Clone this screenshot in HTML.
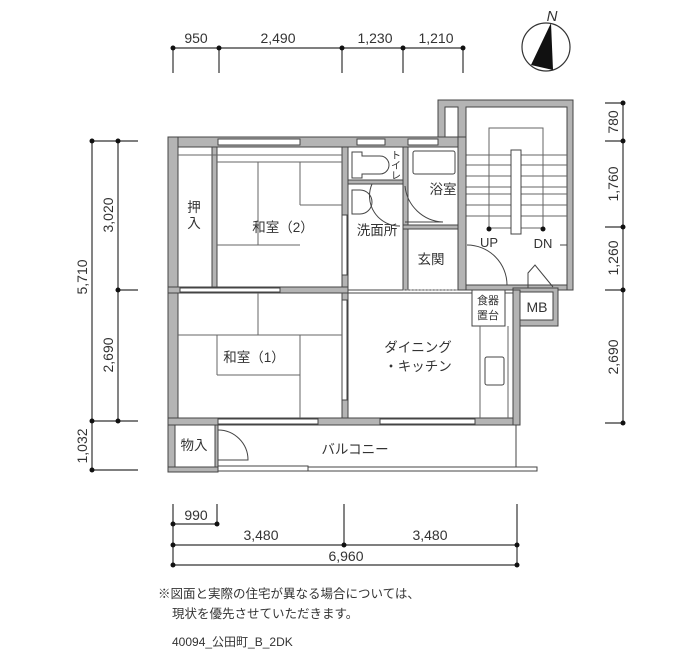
<!DOCTYPE html>
<html><head><meta charset="utf-8"><style>
body{margin:0;background:#fff}
svg{display:block}
text{font-family:"Liberation Sans","Noto Sans CJK JP",sans-serif;fill:#333}
.w{fill:#b4b4b4;stroke:#444;stroke-width:1}
.l{stroke:#444;stroke-width:1;fill:none}
.t{stroke:#666;stroke-width:1;fill:none}
.d{stroke:#333;stroke-width:1.2;fill:none}
</style></head><body>
<svg width="700" height="650" viewBox="0 0 700 650">
<!-- top dims -->
<g class="d"><line x1="173" y1="48" x2="463" y2="48"/>
<line x1="173" y1="48" x2="173" y2="73"/><line x1="219" y1="48" x2="219" y2="73"/><line x1="342" y1="48" x2="342" y2="73"/><line x1="403" y1="48" x2="403" y2="73"/><line x1="463" y1="48" x2="463" y2="73"/></g>
<g fill="#111"><circle cx="173" cy="48" r="2.5"/><circle cx="219" cy="48" r="2.5"/><circle cx="342" cy="48" r="2.5"/><circle cx="403" cy="48" r="2.5"/><circle cx="463" cy="48" r="2.5"/></g>
<g font-size="14" text-anchor="middle"><text x="196" y="43">950</text><text x="278" y="43">2,490</text><text x="375" y="43">1,230</text><text x="436" y="43">1,210</text></g>
<!-- compass -->
<circle cx="546" cy="47" r="24" fill="none" stroke="#333" stroke-width="1.2"/>
<polygon points="551,23 531,65 553,70" fill="#111"/>
<text x="552" y="21" font-size="15" text-anchor="middle" font-style="italic">N</text>
<!-- left dims -->
<g class="d"><line x1="92" y1="141" x2="92" y2="470"/><line x1="118" y1="141" x2="118" y2="421"/>
<line x1="92" y1="141" x2="138" y2="141"/><line x1="118" y1="290" x2="138" y2="290"/><line x1="92" y1="421" x2="138" y2="421"/><line x1="92" y1="470" x2="138" y2="470"/></g>
<g fill="#111"><circle cx="92" cy="141" r="2.5"/><circle cx="118" cy="141" r="2.5"/><circle cx="118" cy="290" r="2.5"/><circle cx="92" cy="421" r="2.5"/><circle cx="118" cy="421" r="2.5"/><circle cx="92" cy="470" r="2.5"/></g>
<g font-size="14" text-anchor="middle">
<text transform="translate(87,277) rotate(-90)">5,710</text>
<text transform="translate(113,215) rotate(-90)">3,020</text>
<text transform="translate(113,355) rotate(-90)">2,690</text>
<text transform="translate(87,446) rotate(-90)">1,032</text>
</g>
<!-- right dims -->
<g class="d"><line x1="623" y1="103" x2="623" y2="423"/>
<line x1="605" y1="103" x2="623" y2="103"/><line x1="605" y1="141" x2="623" y2="141"/><line x1="605" y1="227" x2="623" y2="227"/><line x1="605" y1="290" x2="623" y2="290"/><line x1="605" y1="423" x2="623" y2="423"/></g>
<g fill="#111"><circle cx="623" cy="103" r="2.5"/><circle cx="623" cy="141" r="2.5"/><circle cx="623" cy="227" r="2.5"/><circle cx="623" cy="290" r="2.5"/><circle cx="623" cy="423" r="2.5"/></g>
<g font-size="14" text-anchor="middle">
<text transform="translate(618,122) rotate(-90)">780</text>
<text transform="translate(618,184) rotate(-90)">1,760</text>
<text transform="translate(618,258) rotate(-90)">1,260</text>
<text transform="translate(618,357) rotate(-90)">2,690</text>
</g>
<!-- bottom dims -->
<g class="d"><line x1="173" y1="504" x2="173" y2="565"/><line x1="217" y1="504" x2="217" y2="524"/><line x1="173" y1="524" x2="217" y2="524"/>
<line x1="173" y1="545" x2="517" y2="545"/><line x1="344" y1="504" x2="344" y2="545"/><line x1="517" y1="504" x2="517" y2="565"/><line x1="173" y1="565" x2="517" y2="565"/></g>
<g fill="#111"><circle cx="173" cy="524" r="2.5"/><circle cx="217" cy="524" r="2.5"/><circle cx="173" cy="545" r="2.5"/><circle cx="344" cy="545" r="2.5"/><circle cx="517" cy="545" r="2.5"/><circle cx="173" cy="565" r="2.5"/><circle cx="517" cy="565" r="2.5"/></g>
<g font-size="14" text-anchor="middle"><text x="196" y="520">990</text><text x="261" y="540">3,480</text><text x="430" y="540">3,480</text><text x="346" y="561">6,960</text></g>
<g font-size="12.5"><text x="158" y="598">※図面と実際の住宅が異なる場合については、</text><text x="172" y="618">現状を優先させていただきます。</text><text x="172" y="646" font-size="12">40094_公田町_B_2DK</text></g>

<!-- floor plan -->
<rect class="w" x="438" y="100" width="135" height="190"/>
<rect x="445" y="107" width="13" height="30" fill="#fff" stroke="#444"/>
<rect x="466" y="107" width="101" height="178" fill="#fff" stroke="#444"/>
<rect x="466" y="285" width="101" height="5" class="w"/>
<g class="t"><rect x="489" y="128" width="54" height="100"/>
<line x1="466" y1="155" x2="567" y2="155"/><line x1="466" y1="165" x2="567" y2="165"/><line x1="466" y1="176" x2="567" y2="176"/><line x1="466" y1="187" x2="567" y2="187"/><line x1="466" y1="194" x2="567" y2="194"/><line x1="466" y1="205" x2="567" y2="205"/><line x1="466" y1="216" x2="567" y2="216"/></g>
<rect x="511" y="150" width="10" height="84" fill="#fff" stroke="#444"/>
<circle cx="489" cy="229" r="2.5" fill="#111"/><circle cx="543" cy="229" r="2.5" fill="#111"/>
<text x="489" y="247" font-size="13" text-anchor="middle">UP</text><text x="543" y="248" font-size="13" text-anchor="middle">DN</text>
<path class="l" d="M467,245 A40,40 0 0 1 507,285 L467,285"/>
<line x1="560" y1="245" x2="567" y2="245" class="l"/>
<path class="l" d="M528,288 L528,273 L535,265 L553,287"/>
<rect class="w" x="513" y="288" width="45" height="38"/>
<rect x="519" y="292" width="34" height="28" fill="#fff" stroke="#444"/>
<text x="537" y="312" font-size="14" text-anchor="middle">MB</text>
<rect class="w" x="168" y="137" width="290" height="10"/>
<rect class="w" x="168" y="137" width="10" height="335"/>
<rect class="w" x="168" y="418" width="352" height="7"/>
<rect class="w" x="513" y="290" width="7" height="135"/>
<rect class="w" x="458" y="137" width="8" height="153"/>
<rect class="w" x="342" y="147" width="6" height="271"/>
<rect class="w" x="168" y="287" width="180" height="6"/>
<rect class="w" x="403" y="147" width="5" height="143"/>
<rect class="w" x="348" y="180" width="55" height="4"/>
<rect class="w" x="403" y="225" width="55" height="4"/>
<g fill="#fff" stroke="#444"><rect x="218" y="139" width="82" height="6"/><rect x="357" y="139" width="28" height="6"/><rect x="408" y="139" width="30" height="6"/>
<rect x="218" y="419" width="100" height="5"/><rect x="380" y="419" width="95" height="5"/>
<rect x="342" y="215" width="5" height="60"/><rect x="342" y="300" width="5" height="100"/>
<rect x="180" y="288" width="100" height="4"/></g>
<rect x="178" y="147" width="164" height="140" fill="#fff" stroke="#444"/>
<rect x="178" y="293" width="164" height="125" fill="#fff" stroke="#444"/>
<rect x="348" y="147" width="55" height="33" fill="#fff" stroke="#444"/>
<rect x="408" y="147" width="50" height="78" fill="#fff" stroke="#444"/>
<rect x="348" y="184" width="55" height="106" fill="#fff" stroke="#444"/>
<rect x="408" y="229" width="50" height="61" fill="#fff" stroke="#444"/>
<rect x="348" y="293" width="165" height="125" fill="#fff" stroke="#444"/>
<rect class="w" x="212" y="147" width="5" height="140"/>
<g class="t"><line x1="178" y1="155" x2="342" y2="155"/><line x1="217" y1="162" x2="342" y2="162"/>
<line x1="258" y1="162" x2="258" y2="245"/><line x1="300" y1="162" x2="300" y2="205"/><line x1="300" y1="205" x2="342" y2="205"/><line x1="217" y1="245" x2="300" y2="245"/>
<line x1="178" y1="335" x2="342" y2="335"/><line x1="258" y1="293" x2="258" y2="335"/><line x1="217" y1="335" x2="217" y2="375"/><line x1="217" y1="375" x2="300" y2="375"/><line x1="300" y1="335" x2="300" y2="418"/></g>
<path class="l" d="M352,152 h10 v4 h18 a9,9 0 0 1 0,18 h-18 v4 h-10 z"/>
<rect x="413" y="151" width="42" height="23" rx="2" fill="#fff" stroke="#444"/>
<path class="l" d="M405,186 A40,40 0 0 0 443,222 L405,222"/>
<path class="l" d="M372,184 A30,30 0 0 0 400,226"/>
<path class="l" d="M352,190 h8 a10,10 0 0 1 0,24 h-8 z"/>
<line x1="403" y1="290" x2="458" y2="290" stroke="#888" stroke-dasharray="2,1.5"/>
<rect x="472" y="290" width="33" height="36" fill="#fff" stroke="#444"/>
<line class="t" x1="480" y1="326" x2="480" y2="418"/><line class="t" x1="508" y1="326" x2="508" y2="418"/>
<rect x="485" y="357" width="19" height="28" rx="2" fill="#fff" stroke="#444"/>
<rect x="175" y="425" width="40" height="44" fill="#fff" stroke="#444"/>
<rect class="w" x="215" y="425" width="3" height="47"/>
<path class="l" d="M218,430 A30,30 0 0 1 248,460 L218,460"/>
<rect class="w" x="168" y="467" width="50" height="5"/>
<rect x="218" y="466" width="90" height="5" fill="#fff" stroke="#444"/>
<rect x="308" y="467" width="229" height="4" fill="#fff" stroke="#444"/>
<line class="l" x1="516" y1="425" x2="516" y2="467"/>
<g font-size="13.5" text-anchor="middle">
<text x="194" y="212">押</text><text x="194" y="228">入</text>
<text x="283" y="232">和室（2）</text>
<text x="254" y="362">和室（1）</text>
<text x="377" y="235">洗面所</text>
<text x="443" y="194">浴室</text>
<text x="431" y="264">玄関</text>
<text x="418" y="352">ダイニング</text>
<text x="418" y="371">・キッチン</text>
<text x="194" y="450">物入</text>
<text x="355" y="454">バルコニー</text>
</g>
<g font-size="10" text-anchor="middle"><text x="396" y="159">ト</text><text x="396" y="169">イ</text><text x="396" y="179">レ</text></g>
<g font-size="11" text-anchor="middle"><text x="488" y="304">食器</text><text x="488" y="319">置台</text></g>
</svg>
</body></html>
